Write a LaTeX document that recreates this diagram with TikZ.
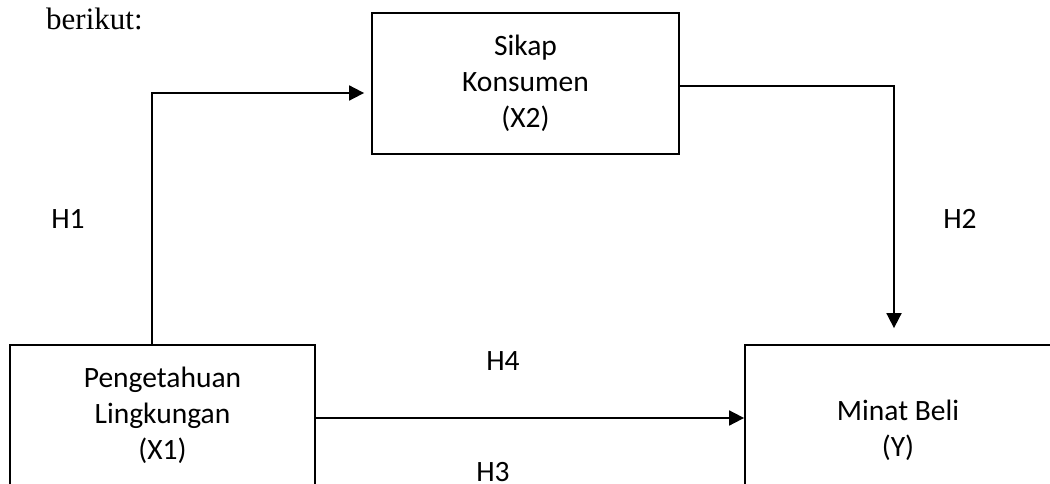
\documentclass[tikz,border=0pt]{standalone}
\usepackage{fontspec}
\setmainfont{Carlito}
\newfontfamily\tnr{Liberation Serif}
\usetikzlibrary{arrows.meta}
\begin{document}
\begin{tikzpicture}[x=1pt,y=-1pt,
  box/.style={draw, line width=1.8pt, minimum width=306pt, minimum height=141pt, inner sep=0pt, align=center, font=\fontsize{29.5}{36}\selectfont},
  lbl/.style={font=\fontsize{29.5}{36}\selectfont, inner sep=0pt},
  arr/.style={line width=1.8pt, -{Triangle[length=15pt,width=15pt]}}]
\useasboundingbox (0,0) rectangle (1050,484);
\clip (0,0) rectangle (1050,484);
\node[anchor=base west, inner sep=0pt, font=\tnr\fontsize{31}{36}\selectfont] (intro) at (46,30) {berikut:};
\node[box, minimum width=307pt] (sikap) at (525.5,83.5) {Sikap\\Konsumen\\(X2)};
\node[box, minimum width=305pt] (peng) at (162.5,415.5) {Pengetahuan\\Lingkungan\\(X1)};
\node[box] (minat) at (898,415.5) {};
\node[lbl, align=center] (minattxt) at (898,430) {Minat Beli\\(Y)};
\draw[arr, shorten >=7pt] ([xshift=-10.5pt]peng.north) |- ([yshift=-9.5pt]sikap.west);
\draw[arr, shorten >=16pt] ([yshift=-2.5pt]sikap.east) -| ([xshift=-4pt]minat.north);
\draw[arr] ([yshift=-2.5pt]peng.east) -- ([yshift=-2.5pt]minat.west);
\node[lbl] (h1) at (68,219) {H1};
\node[lbl] (h2) at (960,219) {H2};
\node[lbl] (h4) at (503,361) {H4};
\node[lbl] (h3) at (493,472) {H3};
\end{tikzpicture}
\end{document}
